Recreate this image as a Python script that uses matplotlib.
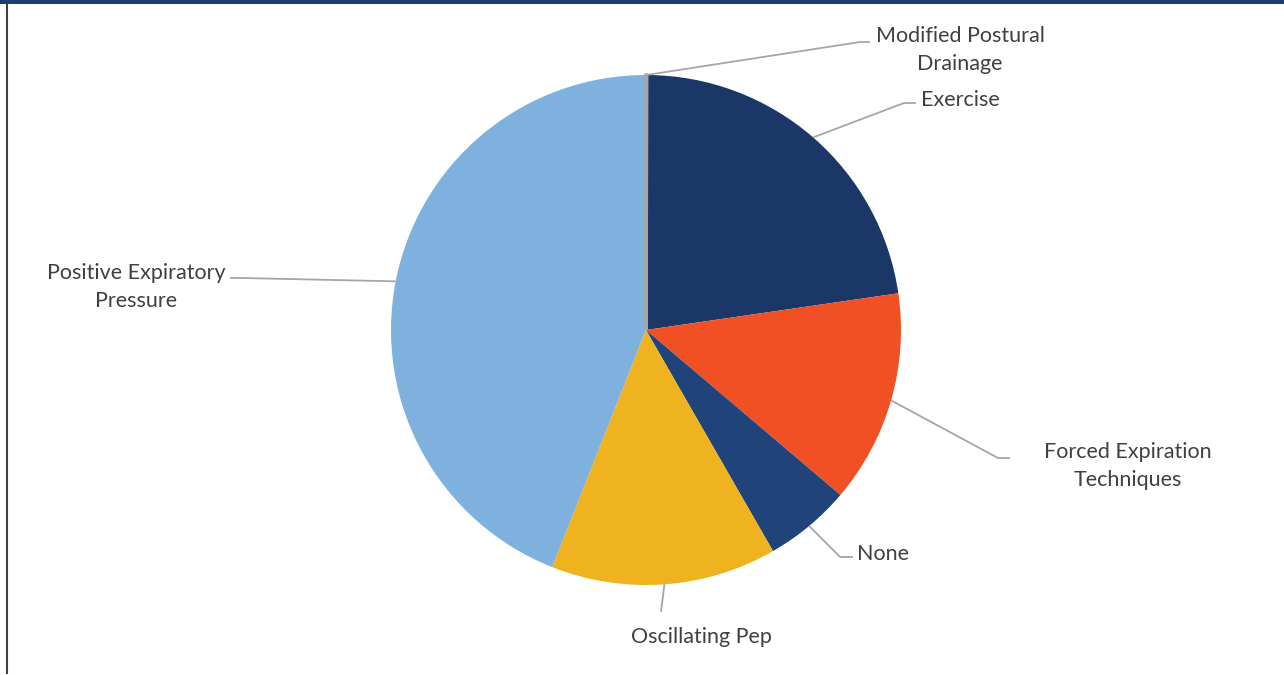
import matplotlib
matplotlib.use("Agg")
import matplotlib.pyplot as plt
import numpy as np

categories = ["Modified Postural\nDrainage", "Exercise", "Forced Expiration\nTechniques",
              "None", "Oscillating Pep", "Positive Expiratory\nPressure"]
values = [0.05, 22.65, 13.5, 5.5, 14.3, 44.0]
colors = ["#A5A5A5", "#1B3767", "#F15024", "#204479", "#EFB31F", "#7FB1DF"]

W, H = 1284, 675
fig = plt.figure(figsize=(W / 100, H / 100), dpi=100)
ax = fig.add_axes([0, 0, 1, 1])

cx, cy, R = 646, H - 330, 255
wedges, _ = ax.pie(values, colors=colors, startangle=90, counterclock=False,
                   center=(cx, cy), radius=R, frame=True,
                   wedgeprops=dict(linewidth=0))
# the tiny slice shows as a thin grey band along its radius
wedges[0].set_edgecolor(colors[0])
wedges[0].set_linewidth(2.4)
wedges[0].set_zorder(3)
ax.set_xlim(0, W)
ax.set_ylim(0, H)
ax.set_aspect("equal")
ax.axis("off")

# label layout (pixel coords, y from top): text position, elbow, end of horizontal, alignment
layout = [
    dict(txt=(960, 50), elbow=(860, 42), end=(870, 42), ha="center", anchor=None),
    dict(txt=(960, 100), elbow=(904, 103), end=(916, 103), ha="center", anchor=None),
    dict(txt=(1128, 466), elbow=(998, 458), end=(1010, 458), ha="center", anchor=None),
    dict(txt=(857, 554), elbow=(840, 557), end=(853, 557), ha="left", anchor=None),
    dict(txt=(701, 637), elbow=(661, 612), end=(661, 612), ha="center", anchor=None),
    dict(txt=(136, 287), elbow=(242, 278), end=(230, 278), ha="center", anchor=169),
]

line_col = "#A6A6A6"
text_col = "#404040"
for w, lab, lay in zip(wedges, categories, layout):
    ang = lay["anchor"] if lay["anchor"] is not None else (w.theta1 + w.theta2) / 2
    sx = cx + R * np.cos(np.radians(ang))
    sy = cy + R * np.sin(np.radians(ang))
    ex, ey = lay["elbow"]
    fx, fy = lay["end"]
    ax.plot([sx, ex, fx], [sy, H - ey, H - fy], color=line_col, lw=1.3,
            solid_capstyle="butt", zorder=1)
    ax.text(lay["txt"][0], H - lay["txt"][1], lab, ha=lay["ha"], va="center",
            fontsize=15.5, color=text_col, family="Lato", linespacing=1.52)

# top band and left border
ax.add_patch(plt.Rectangle((0, H - 4), W, 4, color="#1D3D6E", lw=0, zorder=5))
ax.plot([6.5, 6.5], [2, H - 4], color="#404040", lw=1.5, zorder=5)

fig.savefig("out.png", dpi=100, facecolor="white")
